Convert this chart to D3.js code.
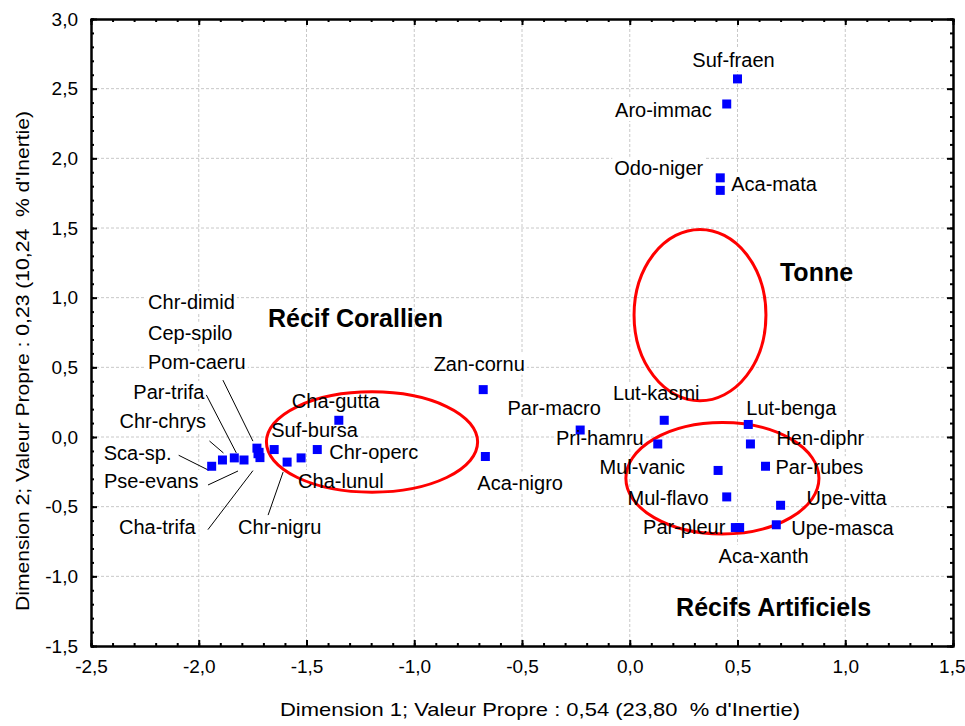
<!DOCTYPE html>
<html>
<head>
<meta charset="utf-8">
<script src="https://cdn.jsdelivr.net/npm/d3@7/dist/d3.min.js"></script>
<style>
    body { margin: 0; background: #fff; }
    text { font-family: "Liberation Sans", Arial, sans-serif; fill: #000; }
    .lbl { font-size: 20px; }
    .group { font-size: 25px; font-weight: bold; }
    .title { font-family: "Liberation Sans Narrow", "Liberation Sans", Arial, sans-serif; font-size: 19px; white-space: pre; }
</style>
</head>
<body>
<div id="vis"></div>
<script>
// species scores on the first two dimensions
var species = ['Suf-fraen', 'Aro-immac', 'Odo-niger', 'Aca-mata',
               'Zan-cornu', 'Aca-nigro', 'Par-macro', 'Pri-hamru',
               'Lut-kasmi', 'Lut-benga', 'Hen-diphr', 'Par-rubes', 'Mul-vanic',
               'Mul-flavo', 'Upe-vitta', 'Upe-masca', 'Par-pleur', 'Aca-xanth',
               'Chr-dimid', 'Cep-spilo', 'Pom-caeru', 'Par-trifa', 'Chr-chrys',
               'Sca-sp.', 'Pse-evans', 'Cha-trifa', 'Chr-nigru', 'Cha-gutta',
               'Suf-bursa', 'Chr-operc', 'Cha-lunul'];
var dim1 = [0.50, 0.45, 0.42, 0.42,
            -0.68, -0.67, -0.23, 0.13,
            0.16, 0.55, 0.56, 0.63, 0.41,
            0.45, 0.70, 0.68, 0.49, 0.51,
            -1.72, -1.725, -1.73, -1.835, -1.89,
            -1.94, -1.79, -1.716, -1.59, -1.35,
            -1.65, -1.45, -1.525];
var dim2 = [2.57, 2.39, 1.86, 1.77,
            0.34, -0.14, 0.05, -0.05,
            0.12, 0.09, -0.05, -0.21, -0.24,
            -0.43, -0.49, -0.63, -0.65, -0.65,
            -0.11, -0.12, -0.08, -0.15, -0.165,
            -0.21, -0.165, -0.148, -0.18, 0.12,
            -0.09, -0.09, -0.15];

// habitat groups (ellipses)
var groups = ['Récif Corallien', 'Tonne', 'Récifs Artificiels'];
var groupCx = [-1.196, 0.326, 0.430];
var groupCy = [-0.036, 0.875, -0.296];
var groupRx = [0.49, 0.306, 0.448];
var groupRy = [0.36, 0.615, 0.400];

var xTicks = [-2.5, -2.0, -1.5, -1.0, -0.5, 0.0, 0.5, 1.0, 1.5];
var yTicks = [-1.5, -1.0, -0.5, 0.0, 0.5, 1.0, 1.5, 2.0, 2.5, 3.0];

var xTitle = "Dimension 1; Valeur Propre : 0,54 (23,80  % d'Inertie)";
var yTitle = "Dimension 2; Valeur Propre : 0,23 (10,24  % d'Inertie)";

// label placement, pixels from the point: [dx, dy, anchor, leader line]
var labelPos = {
    'Suf-fraen': [-4, -12, 'middle'], 'Aro-immac': [-15, 13, 'end'],
    'Odo-niger': [-17, -3, 'end'], 'Aca-mata': [11, 1, 'start'],
    'Zan-cornu': [-4, -19, 'middle'], 'Aca-nigro': [-8, 33, 'start'],
    'Par-macro': [-26, -15, 'middle'], 'Pri-hamru': [-14, 1, 'end'],
    'Lut-kasmi': [-8, -20, 'middle'], 'Lut-benga': [-2, -9, 'start'],
    'Hen-diphr': [26, 1, 'start'], 'Par-rubes': [10, 8, 'start'],
    'Mul-vanic': [-33, 4, 'end'], 'Mul-flavo': [-18, 8, 'end'],
    'Upe-vitta': [26, 0, 'start'], 'Upe-masca': [15, 10, 'start'],
    'Par-pleur': [-10, 6, 'end'], 'Aca-xanth': [24, 35, 'middle'],
    'Chr-dimid': [-111, -143, 'start'], 'Cep-spilo': [-110, -114, 'start'],
    'Pom-caeru': [-109, -79, 'start', [-34, -68, -4, -7]],
    'Par-trifa': [-101, -59, 'start', [-28, -63, 2, -5]],
    'Chr-chrys': [-103, -32, 'start', [-13, -19, 1, -7]],
    'Sca-sp.': [-108, -6, 'start', [-33, -11, -3, 4]],
    'Pse-evans': [-140, 28, 'start', [-36, 25, -6, 11]],
    'Cha-trifa': [-141, 76, 'start', [-52, 72, -7, 13]],
    'Chr-nigru': [-49, 72, 'start', [-19, 53, -4, 10]],
    'Cha-gutta': [-47, -12, 'start'], 'Suf-bursa': [-3, -13, 'start'],
    'Chr-operc': [12, 9, 'start'], 'Cha-lunul': [-3, 30, 'start']
};
var groupLabelX = [-1.679, 0.697, 0.215];
var groupLabelY = [0.79, 1.12, -1.285];

var margin = {
    left:   91,
    bottom: 80,
    top:    19,
    right:  12
};

var height = 726,
    width = 965,
    drawHeight = height - margin.bottom - margin.top,
    drawWidth = width - margin.right - margin.left;

var svg = d3.select('#vis')
            .append('svg')
            .attr('height', height)
            .attr('width', width);
var g = svg.append('g')
           .attr('transform', `translate(${margin.left}, ${margin.top})`);

var xScale = d3.scaleLinear().domain([-2.5, 1.5]).range([0, drawWidth]);
var yScale = d3.scaleLinear().domain([-1.5, 3.0]).range([drawHeight, 0]);

var comma = (d) => d3.format('.1f')(d).replace('.', ',').replace('−', '-');
var minorX = d3.range(-25, 16).map((d) => d / 10);
var minorY = d3.range(-15, 31).map((d) => d / 10);

// grid
g.append('g').selectAll('line')
 .data(xTicks.slice(1, -1))
 .enter().append('line')
 .attr('x1', (d) => xScale(d)).attr('x2', (d) => xScale(d))
 .attr('y1', 0).attr('y2', drawHeight)
 .attr('stroke', '#c8c8c8').attr('stroke-dasharray', '3,2');
g.append('g').selectAll('line')
 .data(yTicks.slice(1, -1))
 .enter().append('line')
 .attr('y1', (d) => yScale(d)).attr('y2', (d) => yScale(d))
 .attr('x1', 0).attr('x2', drawWidth)
 .attr('stroke', '#c8c8c8').attr('stroke-dasharray', '3,2');

var bgLayer = g.append('g');
var ellipseLayer = g.append('g');
var lineLayer = g.append('g');
var pointLayer = g.append('g');
var textLayer = g.append('g');

// ellipses
ellipseLayer.selectAll('ellipse')
    .data(groups)
    .enter().append('ellipse')
    .attr('cx', (d, i) => xScale(groupCx[i]))
    .attr('cy', (d, i) => yScale(groupCy[i]))
    .attr('rx', (d, i) => xScale(groupRx[i]) - xScale(0))
    .attr('ry', (d, i) => yScale(0) - yScale(groupRy[i]))
    .attr('fill', 'none')
    .attr('stroke', '#ff0000')
    .attr('stroke-width', 3);

// points
pointLayer.selectAll('rect')
    .data(species)
    .enter().append('rect')
    .attr('x', (d, i) => xScale(dim1[i]) - 4.5)
    .attr('y', (d, i) => yScale(dim2[i]) - 4.5)
    .attr('width', 9)
    .attr('height', 9)
    .attr('fill', '#0000ff');

// leader lines
var withLines = species.filter((d) => labelPos[d][3]);
lineLayer.selectAll('line')
    .data(withLines)
    .enter().append('line')
    .attr('x1', (d) => xScale(dim1[species.indexOf(d)]) + labelPos[d][3][0])
    .attr('y1', (d) => yScale(dim2[species.indexOf(d)]) + labelPos[d][3][1])
    .attr('x2', (d) => xScale(dim1[species.indexOf(d)]) + labelPos[d][3][2])
    .attr('y2', (d) => yScale(dim2[species.indexOf(d)]) + labelPos[d][3][3])
    .attr('stroke', '#000')
    .attr('stroke-width', 1);

// labels
var labels = textLayer.selectAll('text.lbl')
    .data(species)
    .enter().append('text')
    .attr('class', 'lbl')
    .attr('x', (d, i) => xScale(dim1[i]) + labelPos[d][0])
    .attr('y', (d, i) => yScale(dim2[i]) + labelPos[d][1])
    .attr('text-anchor', (d) => labelPos[d][2])
    .text((d) => d);

var groupText = textLayer.selectAll('text.group')
    .data(groups)
    .enter().append('text')
    .attr('class', 'group')
    .attr('x', (d, i) => xScale(groupLabelX[i]))
    .attr('y', (d, i) => yScale(groupLabelY[i]))
    .text((d) => d);

// white boxes behind texts cut the grid, like the original
labels.merge(groupText).each(function() {
    var b = this.getBBox();
    bgLayer.append('rect')
        .attr('x', b.x - 2).attr('y', b.y)
        .attr('width', b.width + 4).attr('height', b.height)
        .attr('fill', '#fff');
});

// axes
var xAxis = d3.axisBottom(xScale).tickValues(xTicks).tickFormat(comma).tickSizeInner(-6).tickSizeOuter(0).tickPadding(14);
var yAxis = d3.axisLeft(yScale).tickValues(yTicks).tickFormat(comma).tickSizeInner(-6).tickSizeOuter(0).tickPadding(13);

var xAxisLabel = g.append('g')
    .attr('transform', `translate(0, ${drawHeight})`)
    .call(xAxis);
var yAxisLabel = g.append('g')
    .call(yAxis);
g.append('g').call(d3.axisTop(xScale).tickValues(xTicks).tickSizeInner(-6).tickSizeOuter(0).tickFormat(''));
g.append('g').attr('transform', `translate(${drawWidth}, 0)`)
 .call(d3.axisRight(yScale).tickValues(yTicks).tickSizeInner(-6).tickSizeOuter(0).tickFormat(''));

// minor ticks
g.append('g').attr('transform', `translate(0, ${drawHeight})`)
 .call(d3.axisBottom(xScale).tickValues(minorX).tickSize(-3).tickFormat(''));
g.append('g').call(d3.axisTop(xScale).tickValues(minorX).tickSize(-3).tickFormat(''));
g.append('g').call(d3.axisLeft(yScale).tickValues(minorY).tickSize(-3).tickFormat(''));
g.append('g').attr('transform', `translate(${drawWidth}, 0)`)
 .call(d3.axisRight(yScale).tickValues(minorY).tickSize(-3).tickFormat(''));

g.selectAll('.domain').attr('stroke', '#000').attr('stroke-width', 2);
g.selectAll('.tick line').attr('stroke', '#000').attr('stroke-width', 2);
g.selectAll('.tick text').attr('fill', '#000').style('font-family', '"Liberation Sans", Arial, sans-serif').style('font-size', '19px');
// keep the last x label inside the page
xAxisLabel.selectAll('.tick text').filter((d) => d === 1.5).attr('text-anchor', 'end').attr('dx', 12);

// axis titles
svg.append('text')
   .attr('class', 'title')
   .attr('x', 540)
   .attr('y', 716)
   .attr('text-anchor', 'middle')
   .attr('textLength', 520)
   .attr('lengthAdjust', 'spacingAndGlyphs')
   .text(xTitle);

svg.append('text')
   .attr('class', 'title')
   .attr('transform', `translate(29, 361) rotate(-90)`)
   .attr('text-anchor', 'middle')
   .attr('textLength', 500)
   .attr('lengthAdjust', 'spacingAndGlyphs')
   .text(yTitle);
</script>
</body>
</html>
